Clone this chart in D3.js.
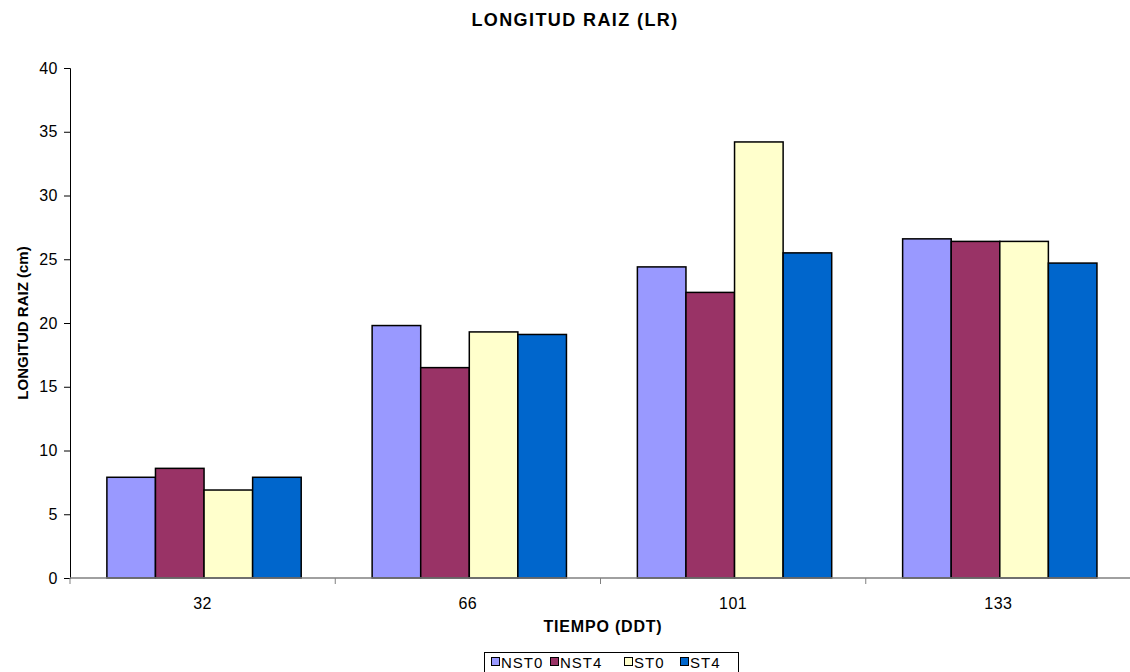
<!DOCTYPE html>
<html>
<head>
<meta charset="utf-8">
<script src="https://cdn.jsdelivr.net/npm/d3@7"></script>
<style>
  html, body { margin: 0; padding: 0; background: #fff; }
  svg { display: block; font-family: "Liberation Sans", Arial, sans-serif; }
</style>
</head>
<body>
<svg id="chart" width="1130" height="672"></svg>
<script>
// Days after transplant
const categories = ["32", "66", "101", "133"];
const seriesNames = ["NST0", "NST4", "ST0", "ST4"];
const seriesColors = ["#9999FF", "#993366", "#FFFFCC", "#0066CC"];
// Root length (cm) per series, one value per category
const NST0 = [7.9, 19.8, 24.4, 26.6];
const NST4 = [8.6, 16.5, 22.4, 26.4];
const ST0  = [6.9, 19.3, 34.2, 26.4];
const ST4  = [7.9, 19.1, 25.5, 24.7];
const seriesValues = [NST0, NST4, ST0, ST4];
const yTicks = [0, 5, 10, 15, 20, 25, 30, 35, 40];

const svg = d3.select("#chart");
const plotLeft = 70, plotRight = 1131, plotTop = 68, plotBottom = 578;

const x = d3.scaleBand().domain(categories).range([plotLeft, plotRight]).paddingInner(0).paddingOuter(0);
const xs = d3.scaleBand().domain(seriesNames).range([0, x.bandwidth()])
  .paddingInner(0).paddingOuter(0.73).align(0.52);
const y = d3.scaleLinear().domain([0, 40]).range([plotBottom, plotTop]);

// Title
svg.append("text").attr("x", 575).attr("y", 26).attr("text-anchor", "middle")
  .attr("font-size", 18).attr("font-weight", "bold").attr("letter-spacing", 1.4)
  .text("LONGITUD RAIZ (LR)");

// Bars
const groups = svg.append("g").selectAll("g").data(categories).join("g")
  .attr("transform", d => `translate(${x(d)},0)`);
seriesNames.forEach((s, si) => {
  groups.append("rect")
    .attr("x", xs(s))
    .attr("width", xs.bandwidth())
    .attr("y", (d, ci) => y(seriesValues[si][ci]))
    .attr("height", (d, ci) => y(0) - y(seriesValues[si][ci]))
    .attr("fill", seriesColors[si])
    .attr("stroke", "#000").attr("stroke-width", 1.5);
});

// Y axis
const yAxis = svg.append("g").attr("transform", `translate(${plotLeft},0)`)
  .call(d3.axisLeft(y).tickValues(yTicks).tickSize(6).tickPadding(6));
yAxis.select(".domain").attr("stroke", "#000");
yAxis.selectAll(".tick line").attr("stroke", "#000");
yAxis.selectAll("text").attr("font-size", 16).attr("fill", "#000").attr("letter-spacing", 0.5)
  .attr("font-family", "Liberation Sans, Arial, sans-serif");

// X axis with ticks at group boundaries
const xAxisG = svg.append("g").attr("transform", `translate(0,${plotBottom})`);
xAxisG.append("line").attr("x1", plotLeft).attr("x2", plotRight).attr("y1", 0).attr("y2", 0)
  .attr("stroke", "#808080").attr("stroke-width", 1.5);
const boundaries = categories.map(c => x(c)).concat([plotRight]);
xAxisG.selectAll("line.tk").data(boundaries).join("line").attr("class", "tk")
  .attr("x1", d => d).attr("x2", d => d).attr("y1", 0).attr("y2", 6)
  .attr("stroke", "#808080");
xAxisG.selectAll("text").data(categories).join("text")
  .attr("x", d => x(d) + x.bandwidth() / 2).attr("y", 31)
  .attr("text-anchor", "middle").attr("font-size", 16).attr("letter-spacing", 0.5).text(d => d);

// Axis titles
svg.append("text").attr("x", 603).attr("y", 632).attr("text-anchor", "middle")
  .attr("font-size", 16).attr("font-weight", "bold").attr("letter-spacing", 0.8)
  .text("TIEMPO (DDT)");
svg.append("text").attr("transform", `translate(28,${(plotTop + plotBottom) / 2}) rotate(-90)`)
  .attr("text-anchor", "middle").attr("font-size", 15).attr("font-weight", "bold")
  .text("LONGITUD RAIZ (cm)");

// Legend
const legend = svg.append("g");
legend.append("rect").attr("x", 484.5).attr("y", 652.5).attr("width", 254).attr("height", 24)
  .attr("fill", "#fff").attr("stroke", "#000");
const legendX = [491, 550, 624, 680];
seriesNames.forEach((s, i) => {
  legend.append("rect").attr("x", legendX[i] + 0.5).attr("y", 657.5).attr("width", 8).attr("height", 8)
    .attr("fill", seriesColors[i]).attr("stroke", "#000");
  legend.append("text").attr("x", legendX[i] + 10).attr("y", 668).attr("font-size", 15)
    .attr("letter-spacing", 1).text(s);
});
</script>
</body>
</html>
